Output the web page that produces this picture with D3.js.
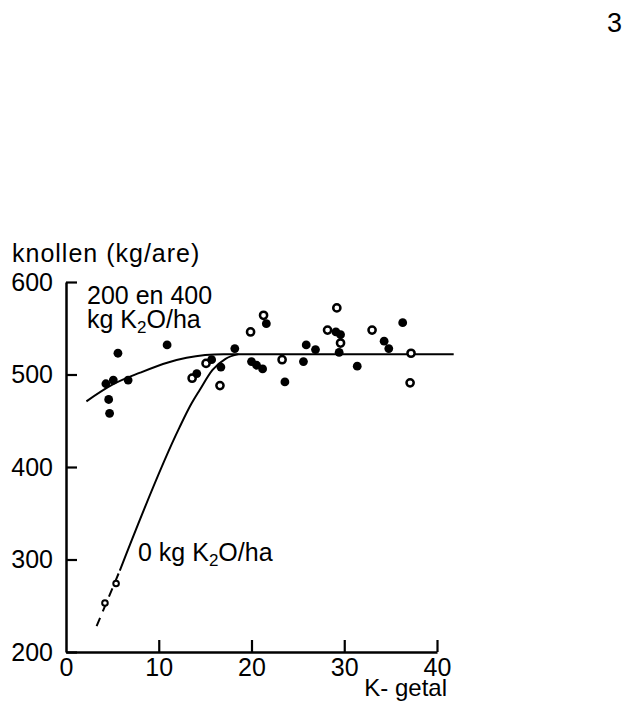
<!DOCTYPE html>
<html>
<head>
<meta charset="utf-8">
<script src="https://cdn.jsdelivr.net/npm/d3@7"></script>
<style>
  body { margin: 0; background: #fff; }
  svg { display: block; }
  text { font-family: "Liberation Sans", Arial, sans-serif; fill: #000; }
</style>
</head>
<body>
<div id="chart"></div>
<script>
// K-getal vs knollen opbrengst (kg/are)
const xTicks = [0, 10, 20, 30, 40];
const yTicks = [200, 300, 400, 500, 600];

// 200 en 400 kg K2O/ha (dichte punten)
const filledPts = [
  [5.6, 523], [10.9, 532], [4.3, 490], [5.1, 494], [6.7, 494], [4.6, 473], [4.7, 458],
  [14.1, 501], [15.7, 516], [16.7, 508], [18.2, 528], [21.6, 555],
  [20.0, 514], [20.55, 510], [21.2, 506], [23.6, 492], [25.6, 514], [25.9, 532],
  [26.9, 527], [29.1, 546], [29.6, 543], [29.45, 524], [31.4, 509],
  [34.3, 536], [34.8, 528], [36.3, 556]
];

// 0 kg K2O/ha (open punten)
const openPts = [
  [13.6, 496], [15.1, 512], [16.6, 488], [19.9, 546], [21.3, 564], [23.3, 516],
  [29.2, 572], [28.2, 548], [29.6, 534], [33.0, 548], [37.2, 523], [37.1, 491]
];
const openLow = [[5.4, 274], [4.2, 253]];

// getekende lijnen
const curveHigh = [[2.2, 471], [5, 489], [8, 502], [11, 513], [13, 518], [15, 521], [17, 522], [41.8, 522]];
const curveZeroDash = [[3.3, 228], [5.8, 288]];
const curveZero = [[5.8, 288], [12.2, 442], [13.5, 468], [14.4, 483], [15.8, 505], [17.2, 517], [18.6, 522]];

const width = 626, height = 702;
const fs = 25;

const svg = d3.select("#chart").append("svg")
  .attr("width", width)
  .attr("height", height);

const x = d3.scaleLinear().domain([0, 40]).range([66, 437]);
const y = d3.scaleLinear().domain([200, 600]).range([652, 282]);

// axes
const yAxis = svg.append("g")
  .attr("transform", `translate(${x(0)},0)`)
  .call(d3.axisLeft(y).tickValues(yTicks).tickSizeInner(-11).tickSizeOuter(0).tickPadding(13));

const xAxis = svg.append("g")
  .attr("transform", `translate(0,${y(200)})`)
  .call(d3.axisBottom(x).tickValues(xTicks).tickSizeInner(-12).tickSizeOuter(0).tickPadding(6));

[yAxis, xAxis].forEach(g => {
  g.select(".domain").attr("stroke", "#000").attr("stroke-width", 2.5);
  g.selectAll(".tick line").attr("stroke", "#000").attr("stroke-width", 2.2);
  g.selectAll(".tick text")
    .style("font-family", '"Liberation Sans", Arial, sans-serif')
    .attr("font-size", fs)
    .attr("fill", "#000");
});
xAxis.selectAll(".tick").filter(d => d === 0).select("line").remove();

// lines
const line = d3.line().x(d => x(d[0])).y(d => y(d[1])).curve(d3.curveMonotoneX);

svg.append("path")
  .datum(curveHigh)
  .attr("d", line)
  .attr("fill", "none")
  .attr("stroke", "#000")
  .attr("stroke-width", 2);

svg.append("path")
  .datum(curveZero)
  .attr("d", line)
  .attr("fill", "none")
  .attr("stroke", "#000")
  .attr("stroke-width", 2);

svg.append("path")
  .datum(curveZeroDash)
  .attr("d", d3.line().x(d => x(d[0])).y(d => y(d[1])))
  .attr("fill", "none")
  .attr("stroke", "#000")
  .attr("stroke-width", 2)
  .attr("stroke-dasharray", "9,7");

// points
svg.append("g").selectAll("circle")
  .data(openPts.concat(openLow))
  .join("circle")
  .attr("cx", d => x(d[0]))
  .attr("cy", d => y(d[1]))
  .attr("r", (d, i) => i >= openPts.length ? 2.8 : 3.6)
  .attr("fill", "#fff")
  .attr("stroke", "#000")
  .attr("stroke-width", (d, i) => i >= openPts.length ? 2 : 2.5);

svg.append("g").selectAll("circle")
  .data(filledPts)
  .join("circle")
  .attr("cx", d => x(d[0]))
  .attr("cy", d => y(d[1]))
  .attr("r", 4.4)
  .attr("fill", "#000");

// texts
svg.append("text")
  .attr("x", 12).attr("y", 262)
  .attr("font-size", fs)
  .attr("letter-spacing", 1)
  .text("knollen (kg/are)");

svg.append("text")
  .attr("x", 87).attr("y", 304)
  .attr("font-size", fs)
  .text("200 en 400");

function k2o(t, px, py, prefix) {
  t.attr("x", px).attr("y", py).attr("font-size", fs);
  t.append("tspan").text(prefix + "K");
  t.append("tspan").attr("font-size", 17).attr("dy", 5).text("2");
  t.append("tspan").attr("dy", -5).text("O/ha");
}
k2o(svg.append("text"), 87, 328, "kg ");
k2o(svg.append("text"), 138, 561, "0 kg ");

svg.append("text")
  .attr("x", 447).attr("y", 696)
  .attr("text-anchor", "end")
  .attr("font-size", 24)
  .text("K- getal");

svg.append("text")
  .attr("x", 607).attr("y", 32)
  .attr("font-size", 27)
  .text("3");
</script>
</body>
</html>
